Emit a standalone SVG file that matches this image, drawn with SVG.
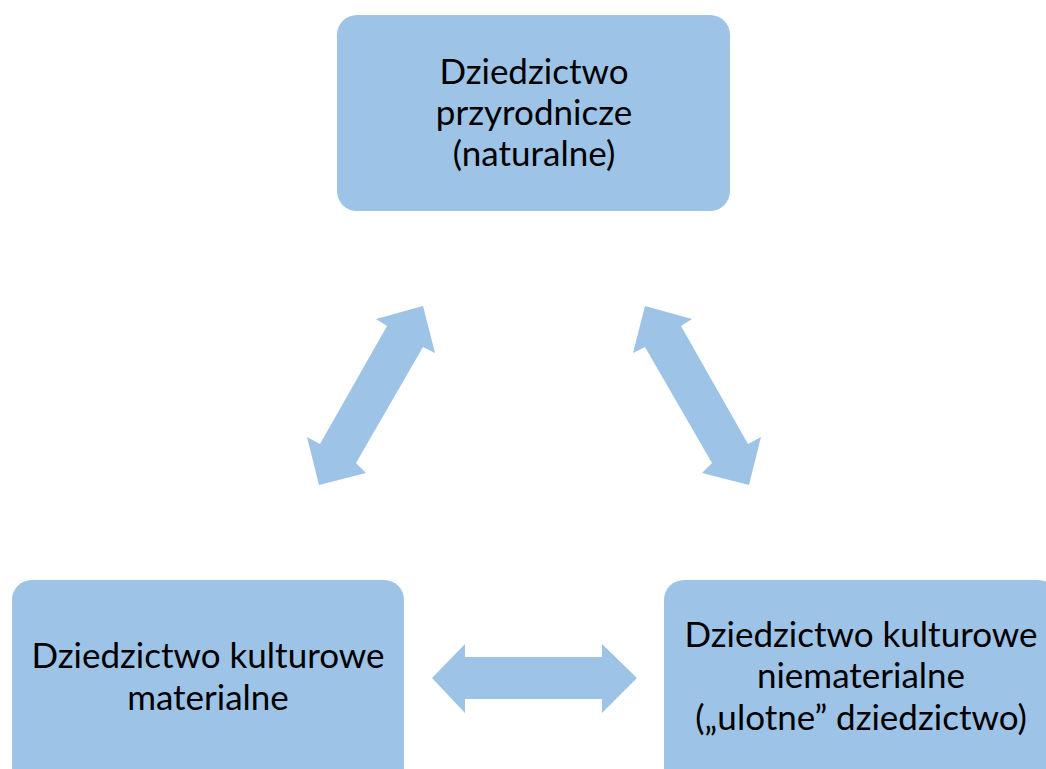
<svg xmlns="http://www.w3.org/2000/svg" width="1046" height="769" viewBox="0 0 1046 769">
<style>
.box{fill:#9DC3E6;}
.arr{fill:#9DC3E6;}
.t{font-family:Lato,"Open Sans","Liberation Sans",sans-serif;font-size:35px;fill:#000;text-anchor:middle;}
</style>
<rect width="1046" height="769" fill="#fff"/>
<g id="connectors">
<polygon class="arr" points="423,306 435,353 423,347 356,463 366,473 319,485 307,437 320,444 387,326 376,319"/>
<polygon class="arr" points="645,306 633,353 645,347 712,463 702,473 749,485 761,437 748,444 681,326 692,319"/>
<polygon class="arr" points="432,678 465,644 465,657 602,657 602,644 637,678 602,713 602,699 465,699 465,713"/>
</g>
<g id="node-top">
<rect class="box" x="337" y="15" width="393" height="196" rx="20"/>
<text class="t" x="534" y="84">Dziedzictwo</text>
<text class="t" x="534" y="125">przyrodnicze</text>
<text class="t" x="534" y="166">(naturalne)</text>
</g>
<g id="node-left">
<rect class="box" x="12" y="580" width="392" height="210" rx="20"/>
<text class="t" x="208" y="668">Dziedzictwo kulturowe</text>
<text class="t" x="208" y="710">materialne</text>
</g>
<g id="node-right">
<rect class="box" x="664" y="580" width="394" height="210" rx="20"/>
<text class="t" x="861" y="647">Dziedzictwo kulturowe</text>
<text class="t" x="861" y="688">niematerialne</text>
<text class="t" x="861" y="730">(„ulotne” dziedzictwo)</text>
</g>
</svg>
